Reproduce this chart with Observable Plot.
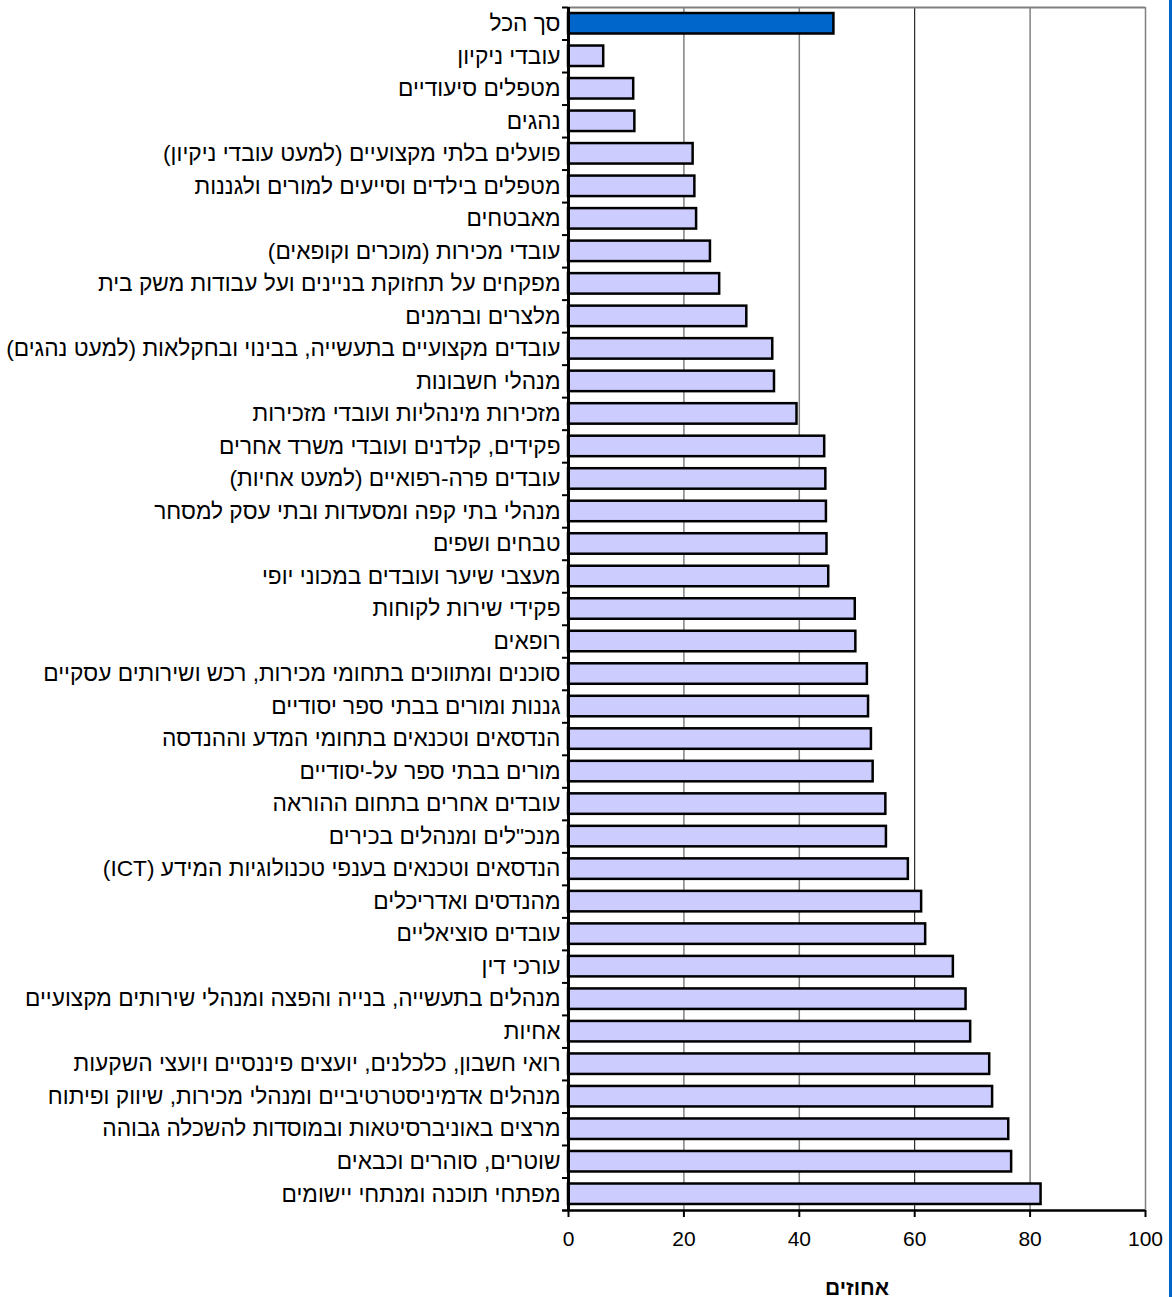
<!DOCTYPE html>
<html><head><meta charset="utf-8">
<script src="https://cdn.jsdelivr.net/npm/d3@7"></script>
<script src="https://cdn.jsdelivr.net/npm/@observablehq/plot@0.6"></script>
<style>
body{margin:0;background:#fff;}
#wrap{position:relative;width:1172px;height:1297px;overflow:hidden;background:#fff;}
#edge{position:absolute;left:1169px;top:0;width:3px;height:1297px;background:#0066cc;}
</style></head><body><div id="wrap"><div id="chart"></div><div id="edge"></div></div>
<script>
const categories = [
  "סך הכל",
  "עובדי ניקיון",
  "מטפלים סיעודיים",
  "נהגים",
  "פועלים בלתי מקצועיים (למעט עובדי ניקיון)",
  "מטפלים בילדים וסייעים למורים ולגננות",
  "מאבטחים",
  "עובדי מכירות (מוכרים וקופאים)",
  "מפקחים על תחזוקת בניינים ועל עבודות משק בית",
  "מלצרים וברמנים",
  "עובדים מקצועיים בתעשייה, בבינוי ובחקלאות (למעט נהגים)",
  "מנהלי חשבונות",
  "מזכירות מינהליות ועובדי מזכירות",
  "פקידים, קלדנים ועובדי משרד אחרים",
  "עובדים פרה-רפואיים (למעט אחיות)",
  "מנהלי בתי קפה ומסעדות ובתי עסק למסחר",
  "טבחים ושפים",
  "מעצבי שיער ועובדים במכוני יופי",
  "פקידי שירות לקוחות",
  "רופאים",
  "סוכנים ומתווכים בתחומי מכירות, רכש ושירותים עסקיים",
  "גננות ומורים בבתי ספר יסודיים",
  "הנדסאים וטכנאים בתחומי המדע וההנדסה",
  "מורים בבתי ספר על-יסודיים",
  "עובדים אחרים בתחום ההוראה",
  "מנכ\"לים ומנהלים בכירים",
  "הנדסאים וטכנאים בענפי טכנולוגיות המידע (ICT)",
  "מהנדסים ואדריכלים",
  "עובדים סוציאליים",
  "עורכי דין",
  "מנהלים בתעשייה, בנייה והפצה ומנהלי שירותים מקצועיים",
  "אחיות",
  "רואי חשבון, כלכלנים, יועצים פיננסיים ויועצי השקעות",
  "מנהלים אדמיניסטרטיביים ומנהלי מכירות, שיווק ופיתוח",
  "מרצים באוניברסיטאות ובמוסדות להשכלה גבוהה",
  "שוטרים, סוהרים וכבאים",
  "מפתחי תוכנה ומנתחי יישומים"
];
const values = [
  46.0, 6.1, 11.3, 11.5, 21.6, 21.9, 22.2, 24.6, 26.2, 30.9,
  35.4, 35.7, 39.6, 44.4, 44.6, 44.7, 44.8, 45.1, 49.7, 49.8,
  51.8, 52.0, 52.5, 52.8, 55.0, 55.1, 58.9, 61.2, 61.9, 66.7,
  68.9, 69.7, 73.0, 73.5, 76.3, 76.8, 81.9
];
const highlight = "סך הכל";
const xTicks = [0, 20, 40, 60, 80, 100];
const grayGrid = [20, 40, 80, 100];
const darkGrid = [60];
const xLabel = "אחוזים";

const data = categories.map((c, i) => ({category: c, value: values[i]}));

const W = 1172, H = 1297, mT = 7, mB = 87, mL = 568, mR = 27;
const step = (H - mT - mB) / categories.length;
const tickLen = 6 / ((W - mL - mR) / 100); // 6px in data units

const chart = Plot.plot({
  width: W,
  height: H,
  marginTop: mT,
  marginBottom: mB,
  marginLeft: mL,
  marginRight: mR,
  style: {fontFamily: "'Liberation Sans', Arial, sans-serif", color: "black", background: "white"},
  x: {domain: [0, 100]},
  y: {domain: categories, paddingInner: 0.37, paddingOuter: 0.185, round: false},
  color: {type: "identity"},
  marks: [
    Plot.ruleX(grayGrid, {stroke: "#808080", strokeWidth: 1.5}),
    Plot.ruleX(darkGrid, {stroke: "#000", strokeWidth: 1}),
    Plot.ruleY([categories[0]], {x1: 0, x2: 100, dy: -step / 2, stroke: "#808080", strokeWidth: 2}),
    Plot.barX(data, {
      x: "value", y: "category",
      fill: d => d.category === highlight ? "#0066cc" : "#ccccff",
      stroke: "black", strokeWidth: 2.5
    }),
    Plot.ruleY(categories, {y: d => d, x1: -tickLen, x2: 0, dy: -step / 2, stroke: "black", strokeWidth: 2}),
    Plot.ruleY([categories[categories.length - 1]], {x1: -tickLen, x2: 100, dy: step / 2, stroke: "black", strokeWidth: 2.5}),
    Plot.ruleX([0], {stroke: "black", strokeWidth: 3}),
    Plot.axisX(xTicks, {tickSize: 7, tickPadding: 14, fontSize: 21, strokeWidth: 2, label: null}),
    Plot.axisY({tickSize: 0, tickPadding: 8, fontSize: 22.7, label: null, tickFormat: d => "\u202B" + d + "\u202C"}),
    Plot.text([xLabel], {x: 50, frameAnchor: "bottom", lineAnchor: "bottom", dy: 84, text: d => d, fontSize: 21, fontWeight: "bold"})
  ]
});
document.getElementById("chart").appendChild(chart);
</script>
</body></html>
